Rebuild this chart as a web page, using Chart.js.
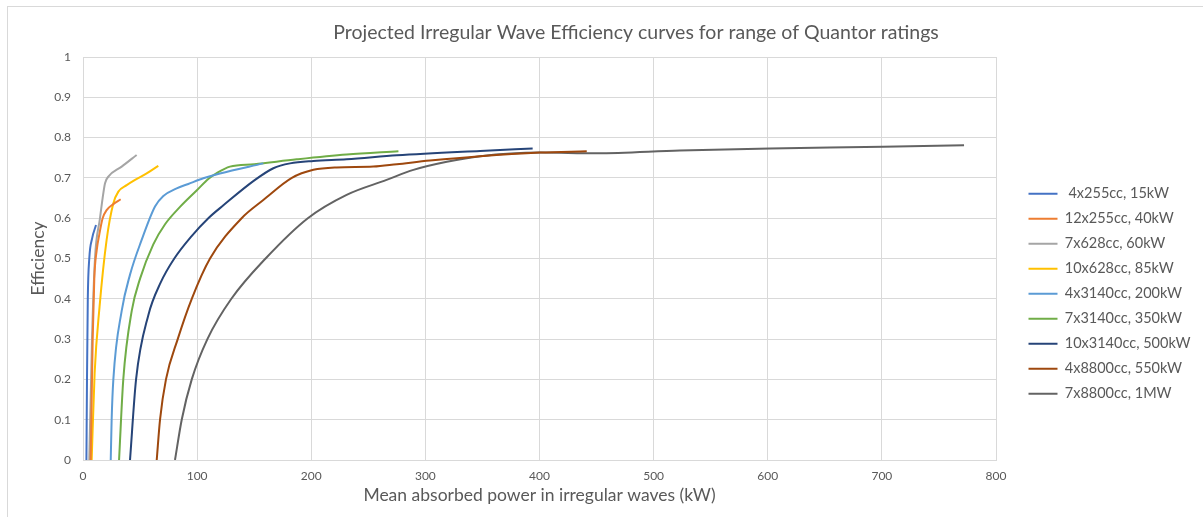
<!DOCTYPE html>
<html>
<head>
<meta charset="utf-8">
<script src="https://cdn.jsdelivr.net/npm/chart.js@4.4.1/dist/chart.umd.min.js"></script>
<style>
  html, body { margin: 0; padding: 0; background: #fff; overflow: hidden; }
  #wrap { position: relative; width: 1203px; height: 517px; overflow: hidden; }
  #frame { position: absolute; left: 7px; top: 6px; width: 1300px; height: 600px;
           border-left: 1px solid #d9d9d9; border-top: 1px solid #d9d9d9; }
  canvas { position: absolute; left: 0; top: 0; }
</style>
</head>
<body>
<div id="wrap"><div id="frame"></div><canvas id="chart" width="1203" height="517"></canvas></div>
<script>
// series names and colours
const names = [' 4x255cc, 15kW', '12x255cc, 40kW', '7x628cc, 60kW', '10x628cc, 85kW',
  '4x3140cc, 200kW', '7x3140cc, 350kW', '10x3140cc, 500kW', '4x8800cc, 550kW', '7x8800cc, 1MW'];
const colors = ['#4472C4', '#ED7D31', '#A5A5A5', '#FFC000', '#5B9BD5', '#70AD47', '#264478', '#9E480E', '#636363'];

// power (kW) / efficiency pairs
const p15_x = [3.0, 3.5, 4.2, 5.5, 8.0, 11.4];
const p15_y = [0, 0.2, 0.4, 0.5, 0.55, 0.583];

const p40_x = [6.7, 7.3, 8.5, 9.9, 12, 14.3, 17.2, 20.7, 26.6, 33];
const p40_y = [0, 0.1, 0.3, 0.45, 0.52, 0.56, 0.6, 0.62, 0.635, 0.647];

const p60_x = [5.5, 7.9, 10.5, 14.9, 17.2, 19.3, 22.2, 33.9, 47];
const p60_y = [0, 0.3, 0.5, 0.6, 0.65, 0.687, 0.703, 0.728, 0.757];

const p85_x = [7.6, 10.2, 14.5, 20.7, 26.6, 31, 38.3, 45.6, 55.8, 66];
const p85_y = [0, 0.216, 0.38, 0.546, 0.637, 0.666, 0.682, 0.695, 0.711, 0.73];

const p200_x = [24.3, 25.1, 26.6, 33.9, 41.2, 51.4, 63.1, 70.4, 82.1, 92.3, 105.4, 120, 158];
const p200_y = [0, 0.1, 0.2, 0.37, 0.46, 0.546, 0.629, 0.655, 0.674, 0.685, 0.699, 0.711, 0.736];

const p350_x = [31.6, 35.3, 42.7, 50, 61.6, 71.9, 85, 100, 110, 117.2, 128.8, 150, 187.3, 231, 276.4];
const p350_y = [0, 0.2, 0.37, 0.45, 0.535, 0.585, 0.628, 0.67, 0.698, 0.712, 0.728, 0.734, 0.746, 0.758, 0.766];

const p500_x = [41.2, 46.5, 57.3, 68, 80, 95, 109.8, 123, 150.7, 166.8, 181.4, 201.9, 231, 275, 348, 394];
const p500_y = [0, 0.2, 0.36, 0.44, 0.5, 0.555, 0.6, 0.632, 0.695, 0.724, 0.736, 0.742, 0.746, 0.756, 0.767, 0.773];

const p550_x = [64.6, 67.5, 72.7, 83, 95.3, 111.3, 139, 158, 183, 201.9, 222.3, 254.4, 275, 304, 348, 400.5, 441.4];
const p550_y = [0, 0.1, 0.2, 0.3, 0.4, 0.5, 0.6, 0.645, 0.7, 0.72, 0.726, 0.728, 0.734, 0.743, 0.754, 0.763, 0.766];

const p1000_x = [80.6, 86.5, 95.3, 109, 130, 160, 197, 231, 266, 289.5, 318.8, 348, 400.5, 450, 523, 602, 701, 772];
const p1000_y = [0, 0.1, 0.2, 0.3, 0.4, 0.5, 0.6, 0.658, 0.695, 0.72, 0.74, 0.754, 0.763, 0.761, 0.768, 0.773, 0.777, 0.781];

const seriesX = [p15_x, p40_x, p60_x, p85_x, p200_x, p350_x, p500_x, p550_x, p1000_x];
const seriesY = [p15_y, p40_y, p60_y, p85_y, p200_y, p350_y, p500_y, p550_y, p1000_y];

const xMax = 800, xStep = 100;
const yMax = 1, yStep = 0.1;

const datasets = names.map((name, i) => ({
  label: name,
  data: seriesX[i].map((x, j) => ({ x: x, y: seriesY[i][j] })),
  borderColor: colors[i],
  backgroundColor: colors[i],
  borderWidth: 2,
  pointRadius: 0,
  fill: false,
  cubicInterpolationMode: 'monotone'
}));

const textGrey = '#595959';
const gridGrey = '#d9d9d9';

Chart.defaults.font.family = 'Lato';
Chart.defaults.color = textGrey;

// put legend and title where Excel had them
const placeBoxes = {
  id: 'placeBoxes',
  afterLayout(chart) {
    const lg = chart.legend;
    lg.left = 1018; lg.right = 1203; lg.width = 185;
    lg.top = 176; lg.bottom = 517; lg.height = 341;
    const t = chart.titleBlock;
    const tw = t.right - t.left;
    t.left = 636 - tw / 2; t.right = 636 + tw / 2;
  }
};

new Chart(document.getElementById('chart'), {
  type: 'line',
  data: { datasets: datasets },
  plugins: [placeBoxes],
  options: {
    responsive: false,
    animation: false,
    layout: { padding: { left: 20, right: 57, top: 0, bottom: 0 } },
    plugins: {
      title: {
        display: true,
        text: 'Projected Irregular Wave Efficiency curves for range of Quantor ratings',
        color: textGrey,
        font: { size: 19.5, weight: 'normal' },
        padding: { top: 21.3, bottom: 12.3 }
      },
      legend: {
        position: 'right',
        align: 'start',
        maxWidth: 150,
        labels: {
          usePointStyle: true,
          pointStyle: 'line',
          pointStyleWidth: 29,
          padding: 10.5,
          color: textGrey,
          font: { size: 14.5 }
        }
      },
      tooltip: { enabled: false }
    },
    scales: {
      x: {
        type: 'linear',
        min: 0, max: xMax,
        ticks: { stepSize: xStep, padding: 9, font: { size: 12 }, color: textGrey },
        grid: { color: gridGrey, drawTicks: false },
        border: { color: gridGrey },
        title: { display: true, text: 'Mean absorbed power in irregular waves (kW)', color: textGrey,
                 font: { size: 17.5 }, padding: { top: 0, bottom: 11.5 } },
        afterFit(scale) { scale.height = 57; }
      },
      y: {
        min: 0, max: yMax,
        ticks: { stepSize: yStep, padding: 12, font: { size: 12 }, color: textGrey,
                 callback: (v) => String(Number(v.toFixed(1))) },
        grid: { color: gridGrey, drawTicks: false },
        border: { color: gridGrey },
        title: { display: true, text: 'Efficiency', color: textGrey,
                 font: { size: 17.5 }, padding: { top: 7.5, bottom: 0 } },
        afterFit(scale) { scale.width = 63; }
      }
    }
  }
});
</script>
</body>
</html>
